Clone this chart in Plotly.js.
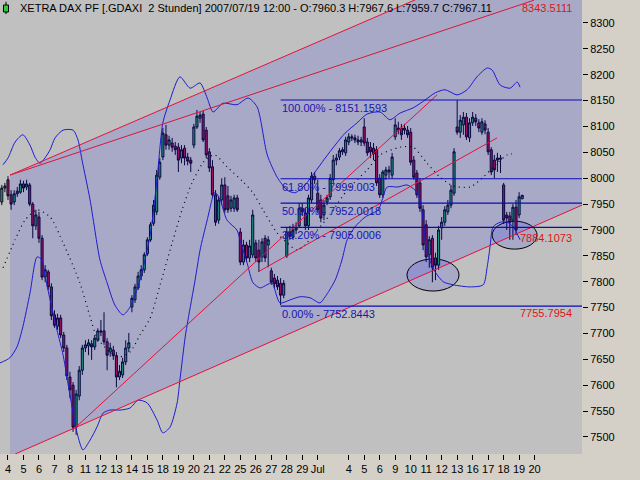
<!DOCTYPE html>
<html>
<head>
<meta charset="utf-8">
<script src="https://cdn.plot.ly/plotly-3.0.1.min.js"></script>
<style>
  html, body { margin: 0; padding: 0; background: #d4d0c8; }
  #chart { width: 640px; height: 480px; }
</style>
</head>
<body>
<div id="chart"></div>
<script>
// XETRA DAX, 2 hour bars: last two bars of 1 Jun, then 5 bars per trading day up to 19 Jul 12:00
const firstBar = -2;
const barsPerDay = 5;

const opens = [
  7954, 7981,
  7997, 7968, 7954, 7970, 7973,   7989, 7983, 7987, 7950, 7908,   7925, 7884, 7809, 7819, 7790,
  7736, 7714, 7730, 7697, 7672,   7616, 7600, 7519, 7579, 7629,   7672, 7676, 7680, 7674, 7687,
  7705, 7705, 7684, 7664, 7668,   7657, 7616, 7620, 7645, 7672,   7751, 7765, 7788, 7811, 7823,
  7854, 7881, 7913, 7935, 8002,   8041, 8084, 8064, 8068, 8062,   8060, 8039, 8058, 8041, 8035,
  8064, 8099, 8116, 8124, 8093,   8051, 8022, 7968, 7919, 7958,   7987, 7966, 7942, 7942, 7962,
  7896, 7838, 7871, 7846, 7852,   7875, 7861, 7848, 7884, 7871,   7821, 7807, 7803, 7797, 7774,
  7850, 7896, 7886, 7900, 7908,   7942, 7933, 7908, 7958, 8004,   7971, 7958, 7929, 7954, 7964,
  7997, 8035, 8041, 8051, 8049,   8070, 8080, 8078, 8074, 8070,   8099, 8070, 8060, 8058, 8055,
  8000, 7968, 8006, 8012, 8006,   8080, 8097, 8097, 8097, 8093,   8089, 8035, 8010, 7991, 7939,
  7910, 7852, 7884, 7846, 7832,   7904, 7915, 7935, 7948, 7971,   8099, 8089, 8103, 8118, 8078,
  8107, 8116, 8107, 8089, 8105,   8089, 8055, 8035, 8039, 8039,   7987, 7929, 7927, 7919, 7944,
  7929, 7960.3
];
const highs = [
  7987, 7991,
  8004, 7977, 7977, 7983, 7997,   7995, 7997, 7991, 7954, 7939,   7935, 7890, 7832, 7823, 7797,
  7745, 7738, 7736, 7703, 7678,   7626, 7606, 7591, 7637, 7678,   7687, 7689, 7687, 7697, 7710,
  7726, 7741, 7691, 7682, 7676,   7664, 7639, 7653, 7687, 7701,   7774, 7796, 7819, 7832, 7857,
  7886, 7915, 7958, 8016, 8039,   8097, 8103, 8082, 8078, 8070,   8068, 8064, 8064, 8049, 8041,
  8105, 8132, 8128, 8130, 8099,   8058, 8035, 7977, 7966, 8000,   8002, 7985, 7966, 7968, 7968,
  7904, 7881, 7877, 7881, 7939,   7881, 7881, 7884, 7890, 7888,   7827, 7815, 7811, 7807, 7803,
  7904, 7908, 7912, 7915, 7952,   7952, 7942, 7968, 8012, 8012,   7997, 7968, 7958, 7968, 8008,
  8045, 8047, 8058, 8060, 8080,   8087, 8085, 8084, 8082, 8080,   8116, 8078, 8070, 8068, 8062,
  8008, 8016, 8022, 8024, 8049,   8116, 8109, 8105, 8105, 8101,   8097, 8043, 8016, 8000, 7948,
  7919, 7888, 7890, 7856, 7908,   7925, 7946, 7958, 7987, 8058,   8151, 8122, 8128, 8126, 8116,
  8128, 8124, 8114, 8116, 8112,   8097, 8060, 8045, 8049, 8045,   7991, 7935, 7935, 7950, 7958,
  7973, 7967.6
];
const lows = [
  7948, 7973,
  7958, 7939, 7948, 7964, 7970,   7973, 7977, 7946, 7884, 7900,   7875, 7803, 7799, 7784, 7726,
  7711, 7707, 7691, 7664, 7610,   7575, 7510, 7504, 7571, 7620,   7664, 7658, 7649, 7668, 7684,
  7695, 7678, 7629, 7655, 7649,   7596, 7610, 7614, 7639, 7664,   7741, 7759, 7784, 7803, 7817,
  7850, 7877, 7908, 7929, 7997,   8035, 8055, 8055, 8051, 8045,   8012, 8029, 8025, 8025, 8012,
  8058, 8095, 8107, 8070, 8039,   8012, 7962, 7908, 7912, 7948,   7933, 7933, 7935, 7935, 7935,
  7832, 7832, 7838, 7838, 7846,   7838, 7819, 7838, 7838, 7828,   7794, 7788, 7784, 7755, 7768,
  7846, 7881, 7881, 7892, 7904,   7927, 7900, 7900, 7952, 7989,   7933, 7915, 7919, 7948, 7958,
  7991, 8025, 8035, 8045, 8043,   8064, 8072, 8068, 8064, 8062,   8062, 8043, 8039, 8035, 7985,
  7962, 7962, 7997, 8000, 8000,   8074, 8085, 8074, 8085, 8078,   8025, 7997, 7962, 7935, 7861,
  7838, 7827, 7799, 7803, 7823,   7881, 7908, 7929, 7942, 7966,   8084, 8078, 8084, 8074, 8070,
  8101, 8101, 8089, 8084, 8085,   8045, 8006, 8000, 8012, 8010,   7912, 7900, 7881, 7881, 7890,
  7923, 7959.7
];
const closes = [
  7981, 7985,
  7966, 7950, 7970, 7975, 7989,   7981, 7989, 7950, 7908, 7929,   7884, 7809, 7823, 7790, 7734,
  7716, 7730, 7697, 7672, 7618,   7591, 7519, 7583, 7629, 7672,   7678, 7682, 7674, 7691, 7705,
  7703, 7684, 7658, 7672, 7657,   7616, 7627, 7645, 7672, 7682,   7768, 7790, 7811, 7823, 7852,
  7881, 7910, 7948, 8006, 8031,   8087, 8064, 8074, 8060, 8055,   8035, 8055, 8039, 8033, 8029,
  8099, 8120, 8122, 8074, 8045,   8020, 7968, 7915, 7958, 7987,   7939, 7939, 7958, 7962, 7939,
  7838, 7871, 7846, 7869, 7929,   7846, 7838, 7877, 7846, 7881,   7799, 7796, 7790, 7774, 7797,
  7896, 7888, 7900, 7904, 7942,   7935, 7908, 7962, 8004, 7997,   7939, 7923, 7948, 7962, 8000,
  8035, 8039, 8053, 8055, 8074,   8080, 8078, 8074, 8070, 8074,   8068, 8049, 8051, 8047, 7991,
  7968, 8012, 8016, 8016, 8041,   8103, 8093, 8084, 8093, 8084,   8031, 8002, 7968, 7942, 7871,
  7848, 7881, 7828, 7832, 7900,   7915, 7939, 7948, 7977, 8051,   8089, 8112, 8118, 8080, 8107,
  8118, 8109, 8097, 8109, 8093,   8051, 8012, 8016, 8035, 8037,   7919, 7923, 7915, 7944, 7900,
  7964, 7967.11
];

// Bollinger bands (bar position, price)
const upperBars = [-1.6, 0, 2.3, 4.8, 7.1, 8.7, 10.3, 11.9, 13.6, 15.2, 17.8, 21, 22.6, 23.9, 26.5, 29.7, 32, 34.5, 37.1, 39.4,
  42.6, 45.9, 48.1, 50, 52.3, 55.5, 58.8, 62, 64.3, 66.2, 69.4, 73.9, 77.5, 80.4, 83.7, 86.9, 90.1, 92.7, 95.9, 99.1,
  102.4, 105.6, 108.8, 112.7, 115.9, 120.1, 123.3, 126.6, 130.8, 134.6, 137.9, 141.1, 145, 148.2, 151.4, 154.7, 156.3, 158.9, 162.1, 164.4, 165.3];
const upperBand = [8026, 8039, 8070, 8084, 8064, 8041, 8029, 8039, 8055, 8078, 8093, 8093, 8074, 8035, 7958, 7842, 7798, 7755, 7736, 7751,
  7803, 7890, 7997, 8107, 8151, 8196, 8174, 8184, 8155, 8128, 8145, 8142, 8155, 8138, 8045, 8002, 7977, 7972, 7987, 8012,
  8039, 8064, 8087, 8107, 8124, 8128, 8113, 8126, 8136, 8151, 8165, 8171, 8161, 8171, 8196, 8213, 8209, 8180, 8174, 8186, 8176];

const lowerBars = [-2.6, 0.6, 2.9, 4.8, 7.1, 9.4, 11, 11.9, 13.6, 15.8, 17.8, 20, 22.3, 24.2, 26.5, 28.7, 30.7, 32.9, 36.2, 39.4,
  42, 44.9, 48.1, 50, 52.3, 54.6, 55.5, 57.2, 58.1, 60.4, 62, 64.3, 66.8, 68.5, 70.7, 73.9, 74.9, 77.2, 79.1, 81.4,
  83.6, 85.2, 87.8, 91.1, 94.3, 97.5, 100.7, 102.4, 105.6, 107.8, 109.5, 112, 115.3, 119.5, 120.8, 122.4, 125.9, 128.8, 131.4, 133,
  134, 135.3, 137.9, 140.5, 143.7, 149.2, 153.4, 154.7, 155.6, 156.6, 158.9, 161.1, 163.1, 165.3];
const lowerBand = [7643, 7653, 7674, 7713, 7778, 7848, 7842, 7813, 7765, 7707, 7658, 7581, 7508, 7475, 7494, 7519, 7546, 7552, 7552, 7556,
  7571, 7566, 7533, 7508, 7519, 7566, 7610, 7693, 7726, 7803, 7861, 7919, 7973, 7958, 7919, 7900, 7881, 7836, 7798, 7788,
  7794, 7798, 7759, 7765, 7771, 7769, 7759, 7771, 7803, 7842, 7881, 7906, 7925, 7939, 7958, 7983, 7983, 7987, 7977, 7958,
  7919, 7856, 7819, 7800, 7794, 7790, 7794, 7829, 7867, 7906, 7915, 7915, 7906, 7881];

const midBars = [-1.6, 2.3, 5.5, 9.4, 13.6, 17.8, 23.2, 26.5, 28.7, 32.9, 36.2, 39.4, 42.6, 45.9, 49.1, 53, 56.2, 59.4, 63.6, 66.8,
  70.7, 75.9, 79.1, 82.3, 86.9, 90.1, 93.3, 95.9, 98.5, 104, 109.5, 115.9, 120.1, 126.6, 130.8, 135.3, 139.5, 143.7, 149.2, 153.4,
  157.9, 161.1, 162.7];
const midBand = [7827, 7881, 7919, 7939, 7925, 7875, 7798, 7732, 7693, 7664, 7655, 7664, 7697, 7730, 7794, 7875, 7939, 7991, 8035, 8045,
  8022, 7993, 7972, 7939, 7894, 7875, 7861, 7871, 7890, 7930, 7977, 8016, 8045, 8060, 8060, 8029, 8002, 7985, 7983, 8002,
  8029, 8045, 8047];

// trend lines: two points each (bar, price)
const lineA_x = [0.65, 130],   lineA_y = [8006, 8341];
const lineB_x = [0.65, 169.8], lineB_y = [8006, 8344];
const lineC_x = [2.3, 185.3],  lineC_y = [7467, 7948];
const lineE_x = [21, 138.5],   lineE_y = [7514, 8161];
const lineF_x = [80.7, 157.9], lineF_y = [7819, 8078];

// Fibonacci retracement, drawn from the 27 Jun low bar
const fibStartBar = 88;
const fibPct = ['100.00', '61.80', '50.00', '38.20', '0.00'];
const fibLevel = [8151.1593, 7999.003, 7952.0018, 7905.0006, 7752.8443];

// red value labels at the right
const redLabels = [8343.5111, 7884.1073, 7755.7954];

// circled areas
const ellBarFrom = [128.8, 156.3], ellBarTo = [145.6, 170.8];
const ellLow = [7782, 7863], ellHigh = [7844, 7917];

// time axis
const tickText = ['4', '5', '6', '7', '8', '11', '12', '13', '14', '15', '18', '19', '20', '21', '22', '25', '26', '27', '28', '29',
  'Jul', '4', '5', '6', '9', '10', '11', '12', '13', '16', '17', '18', '19', '20'];
const tickDay = [0, 1, 2, 3, 4, 5, 6, 7, 8, 9, 10, 11, 12, 13, 14, 15, 16, 17, 18, 19,
  20, 22, 23, 24, 25, 26, 27, 28, 29, 30, 31, 32, 33, 34];
const priceTicks = [7500, 7550, 7600, 7650, 7700, 7750, 7800, 7850, 7900, 7950, 8000, 8050, 8100, 8150, 8200, 8250, 8300];

const bars = opens.map((_, i) => i + firstBar);
const last = opens.length - 1;

function lineAt(xs, ys, k) {
  const m = (ys[1] - ys[0]) / (xs[1] - xs[0]);
  return ys[0] + m * (k - xs[0]);
}

const farBar = 195;
const blueFill = 'rgba(0,0,255,0.12)';
const red = 'rgb(228,18,58)';
const bandBlue = '#1c1cd0';
const fibBlue = '#0a0ab8';

const traces = [];

// shaded channel between the upper line A and the lower line C
traces.push({
  x: [lineA_x[0], farBar, farBar, lineA_x[0]],
  y: [lineA_y[0], lineAt(lineA_x, lineA_y, farBar), lineAt(lineC_x, lineC_y, farBar), lineAt(lineC_x, lineC_y, lineA_x[0])],
  mode: 'lines', fill: 'toself', fillcolor: blueFill, line: { width: 0 }, hoverinfo: 'skip'
});

traces.push({
  type: 'candlestick', x: bars, open: opens, high: highs, low: lows, close: closes,
  increasing: { line: { color: '#0a0a28', width: 1 }, fillcolor: '#22a868' },
  decreasing: { line: { color: '#0a0a28', width: 1 }, fillcolor: '#b4124e' },
  whiskerwidth: 0, hoverinfo: 'none'
});

traces.push({ x: upperBars, y: upperBand, mode: 'lines', line: { color: bandBlue, width: 1, shape: 'spline', smoothing: 0.7 }, hoverinfo: 'skip' });
traces.push({ x: lowerBars, y: lowerBand, mode: 'lines', line: { color: bandBlue, width: 1, shape: 'spline', smoothing: 0.7 }, hoverinfo: 'skip' });
traces.push({ x: midBars, y: midBand, mode: 'lines', line: { color: '#000', width: 1.2, dash: '1px,4px', shape: 'spline', smoothing: 0.7 }, hoverinfo: 'skip' });

// trend lines; A and C run out of the plot
[
  [lineA_x[0], farBar], [lineA_y[0], lineAt(lineA_x, lineA_y, farBar)],
  lineB_x, lineB_y,
  [lineC_x[0], farBar], [lineC_y[0], lineAt(lineC_x, lineC_y, farBar)],
  lineE_x, lineE_y,
  lineF_x, lineF_y
].forEach((arr, i, all) => {
  if (i % 2) return;
  traces.push({ x: arr, y: all[i + 1], mode: 'lines', line: { color: red, width: 1 }, hoverinfo: 'skip' });
});

fibLevel.forEach(lv => {
  traces.push({ x: [fibStartBar, farBar], y: [lv, lv], mode: 'lines', line: { color: fibBlue, width: 1.2 }, hoverinfo: 'skip' });
});

const annotations = [];
annotations.push({
  xref: 'paper', yref: 'paper', x: 0.031, y: 0.982, xanchor: 'left', yanchor: 'middle', showarrow: false,
  text: 'XETRA DAX PF [.GDAXI\u00a0 2 Stunden] 2007/07/19 12:00 - O:' + opens[last] + ' H:' + highs[last] +
        ' L:' + lows[last] + ' C:' + closes[last],
  font: { size: 11, color: '#000' }
});
fibLevel.forEach((lv, i) => {
  annotations.push({
    x: fibStartBar, y: lv, xanchor: 'left', yanchor: 'top', showarrow: false, xshift: -1,
    text: fibPct[i] + '% - ' + lv, font: { size: 11, color: '#1616b0' }
  });
});
redLabels.forEach((v, i) => {
  annotations.push({
    xref: 'paper', x: 0.986, y: v, xanchor: 'right', yanchor: i === 1 ? 'middle' : 'top', showarrow: false,
    text: String(v), font: { size: 11, color: '#e01414' }
  });
});

const shapes = [];
ellBarFrom.forEach((x0, i) => {
  shapes.push({
    type: 'circle', xref: 'x', yref: 'y', x0: x0, x1: ellBarTo[i], y0: ellLow[i], y1: ellHigh[i],
    line: { color: '#000', width: 1 }, fillcolor: blueFill, layer: 'below'
  });
});
// little candle icon in front of the title
shapes.push({ type: 'line', xref: 'paper', yref: 'paper', x0: 0.0103, x1: 0.0103, y0: 0.969, y1: 0.996, line: { color: '#000', width: 1 } });
shapes.push({ type: 'rect', xref: 'paper', yref: 'paper', x0: 0.006, x1: 0.0146, y0: 0.9736, y1: 0.989,
  line: { color: '#000', width: 1 }, fillcolor: '#2ccc3c' });

const layout = {
  width: 640, height: 480,
  margin: { l: 0, r: 58, t: 0, b: 26 },
  paper_bgcolor: '#d4d0c8', plot_bgcolor: '#c0c0c0',
  showlegend: false, hovermode: false, boxgap: 0.05,
  font: { family: 'Liberation Sans, Arial, sans-serif', size: 11, color: '#000' },
  xaxis: {
    range: [-2.58, 185.3], rangeslider: { visible: false }, fixedrange: true,
    tickmode: 'array', tickvals: tickDay.map(d => d * barsPerDay), ticktext: tickText,
    ticks: 'outside', ticklen: 5, tickcolor: '#000', tickwidth: 1,
    showgrid: false, zeroline: false, showline: false, tickfont: { size: 11 }
  },
  yaxis: {
    side: 'right', range: [7467.1, 8344.4], fixedrange: true,
    tickmode: 'array', tickvals: priceTicks, ticktext: priceTicks.map(String),
    ticks: 'outside', ticklen: 5, tickcolor: '#000', tickwidth: 1,
    showgrid: false, zeroline: false, showline: false, tickfont: { size: 11 }
  },
  shapes: shapes,
  annotations: annotations
};

Plotly.newPlot('chart', traces, layout, { displayModeBar: false, staticPlot: true });
</script>
</body>
</html>
